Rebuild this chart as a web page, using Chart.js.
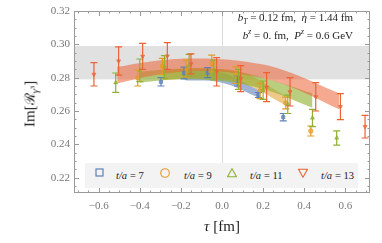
<!DOCTYPE html>
<html>
<head>
<meta charset="utf-8">
<script src="https://cdn.jsdelivr.net/npm/chart.js@4.4.1/dist/chart.umd.min.js"></script>
<style>
  html, body { margin: 0; padding: 0; background: #fff; }
  #wrap { position: relative; width: 382px; height: 243px; font-family: 'Liberation Serif', 'DejaVu Serif', serif; }
  canvas { position: absolute; left: 0; top: 0; }
  .note { position: absolute; right: 29px; font-size: 11px; color: #222; white-space: nowrap; }
  .note i { font-style: italic; }
  .note sub, .note sup { font-size: 7.5px; line-height: 0; }
  #legend { position: absolute; left: 85px; top: 163px; width: 273px; height: 25px; background: #f3f3f3; }
  #legend svg { position: absolute; }
  .item { position: absolute; top: 0; height: 25px; display: flex; align-items: center; font-size: 10.5px; font-style: italic; color: #222; white-space: nowrap; }
  #xt { position: absolute; left: 0; width: 444px; top: 218px; text-align: center; font-size: 15px; color: #222; }
  #yt { position: absolute; left: 30px; top: 104px; transform: translate(-50%, -50%) rotate(-90deg); font-size: 15px; color: #222; white-space: nowrap; }
  #yt sub { font-size: 10px; }
  #yt sup { font-size: 7px; }
</style>
</head>
<body>
<div id="wrap">
  <canvas id="c" width="382" height="243"></canvas>
  <div class="note" style="top:11px"><i>b</i><sub><i>T</i></sub> = 0.12 fm, &nbsp;<i>η</i> = 1.44 fm</div>
  <div class="note" style="top:29px"><i>b</i><sup><i>z</i></sup> = 0. fm, &nbsp;<i>P</i><sup><i>z</i></sup> = 0.6 GeV</div>
  <div id="legend"></div>
  <div id="xt"><i>τ</i> [fm]</div>
  <div id="yt">Im[<span style="font-family:'DejaVu Serif',serif;font-size:14px">ℛ</span><sub><i>γ</i><sup>3</sup></sub>]</div>
</div>
<script>
// t/a = 7
const tau7 = [-0.297, -0.185, -0.07, 0.075, 0.177, 0.298];
const val7 = [0.2775, 0.2828, 0.2830, 0.2780, 0.2696, 0.2563];
const err7 = [0.0025, 0.0035, 0.0030, 0.0030, 0.0015, 0.0022];
// t/a = 9
const tau9 = [-0.41, -0.29, -0.175, -0.05, 0.067, 0.185, 0.31, 0.432];
const val9 = [0.2798, 0.2868, 0.2855, 0.2885, 0.2815, 0.2720, 0.2648, 0.2480];
const err9 = [0.0048, 0.0048, 0.0050, 0.0050, 0.0050, 0.0046, 0.0035, 0.0030];
// t/a = 11
const tau11 = [-0.517, -0.40, -0.28, -0.16, -0.04, 0.08, 0.20, 0.32, 0.44, 0.558];
const val11 = [0.2770, 0.2844, 0.2864, 0.2875, 0.2846, 0.2790, 0.2725, 0.2640, 0.2558, 0.2438];
const err11 = [0.0058, 0.0068, 0.0068, 0.0065, 0.0060, 0.0060, 0.0055, 0.0055, 0.0052, 0.0043];
// t/a = 13
const tau13 = [-0.623, -0.503, -0.386, -0.266, -0.151, -0.026, 0.091, 0.217, 0.331, 0.456, 0.576, 0.696];
const val13 = [0.2820, 0.2900, 0.2928, 0.2930, 0.2883, 0.2835, 0.2794, 0.2743, 0.2715, 0.2685, 0.2626, 0.2506];
const err13 = [0.0070, 0.0085, 0.0078, 0.0080, 0.0060, 0.0085, 0.0078, 0.0087, 0.0085, 0.0085, 0.0078, 0.0068];

// fit bands (read at a few tau values)
const bandX7 = [-0.18, 0, 0.18];
const bandHi7 = [0.2840, 0.2830, 0.2725];
const bandLo7 = [0.2785, 0.2770, 0.2680];
const bandX9 = [-0.29, -0.1, 0.1, 0.31];
const bandHi9 = [0.2845, 0.2855, 0.2830, 0.2690];
const bandLo9 = [0.2785, 0.2795, 0.2765, 0.2635];
const bandX11 = [-0.4, -0.2, 0, 0.2, 0.44];
const bandHi11 = [0.2835, 0.2855, 0.2850, 0.2800, 0.2706];
const bandLo11 = [0.2770, 0.2790, 0.2780, 0.2732, 0.2620];
const bandX13 = [-0.51, -0.3, -0.1, 0.1, 0.3, 0.57];
const bandHi13 = [0.2865, 0.2905, 0.2915, 0.2898, 0.2845, 0.2706];
const bandLo13 = [0.2765, 0.2820, 0.2840, 0.2820, 0.2760, 0.2610];

// gray reference band
const refBand = [0.279, 0.299];

const xTicks = [-0.6, -0.4, -0.2, 0.0, 0.2, 0.4, 0.6];
const yTicks = [0.22, 0.24, 0.26, 0.28, 0.30, 0.32];

const series = [
  { label: 't/a = 7', tau: tau7, val: val7, err: err7, color: '#5e81b5', fill: 'rgba(94,129,181,0.6)', style: 'rect', rot: 0, bx: bandX7, hi: bandHi7, lo: bandLo7 },
  { label: 't/a = 9', tau: tau9, val: val9, err: err9, color: '#e19c24', fill: 'rgba(225,156,36,0.55)', style: 'circle', rot: 0, bx: bandX9, hi: bandHi9, lo: bandLo9 },
  { label: 't/a = 11', tau: tau11, val: val11, err: err11, color: '#8fb032', fill: 'rgba(143,176,50,0.62)', style: 'triangle', rot: 0, bx: bandX11, hi: bandHi11, lo: bandLo11 },
  { label: 't/a = 13', tau: tau13, val: val13, err: err13, color: '#eb6235', fill: 'rgba(235,98,53,0.55)', style: 'triangle', rot: 180, bx: bandX13, hi: bandHi13, lo: bandLo13 }
];

const toXY = (xs, ys) => xs.map((x, i) => ({ x: x, y: ys[i] }));

const datasets = [];
series.forEach((s, k) => {
  datasets.push({ type: 'line', data: toXY(s.bx, s.lo), borderWidth: 0, pointRadius: 0, tension: 0.4, fill: false, order: 20 - k * 2 });
  datasets.push({ type: 'line', data: toXY(s.bx, s.hi), borderWidth: 0, pointRadius: 0, tension: 0.4, fill: '-1', backgroundColor: s.fill, order: 19 - k * 2 });
});
series.forEach((s, k) => {
  datasets.push({
    type: 'scatter', data: toXY(s.tau, s.val), pointStyle: s.style, rotation: s.rot,
    pointRadius: 2.2, backgroundColor: s.fill, borderColor: s.color, borderWidth: 0.8, order: 5 - k
  });
});

const deco = {
  id: 'deco',
  beforeDatasetsDraw(chart) {
    const { ctx, chartArea: a, scales: { x, y } } = chart;
    ctx.save();
    ctx.fillStyle = 'rgba(205,205,205,0.6)';
    const t = y.getPixelForValue(refBand[1]), b = y.getPixelForValue(refBand[0]);
    ctx.fillRect(a.left, t, a.right - a.left, b - t);
    ctx.strokeStyle = '#dcdcdc';
    ctx.lineWidth = 1;
    const x0 = Math.round(x.getPixelForValue(0)) + 0.5;
    ctx.beginPath(); ctx.moveTo(x0, a.top); ctx.lineTo(x0, a.bottom); ctx.stroke();
    ctx.restore();
  },
  afterDatasetsDraw(chart) {
    const { ctx, chartArea: a, scales: { x, y } } = chart;
    ctx.save();
    // error bars
    series.forEach(s => {
      ctx.strokeStyle = s.color;
      ctx.lineWidth = 1.2;
      s.tau.forEach((t, i) => {
        const px = x.getPixelForValue(t);
        const p1 = y.getPixelForValue(s.val[i] + s.err[i]);
        const p2 = y.getPixelForValue(s.val[i] - s.err[i]);
        ctx.beginPath();
        ctx.moveTo(px, p1); ctx.lineTo(px, p2);
        ctx.moveTo(px - 3.5, p1); ctx.lineTo(px + 3.5, p1);
        ctx.moveTo(px - 3.5, p2); ctx.lineTo(px + 3.5, p2);
        ctx.stroke();
      });
    });
    // frame and inward ticks
    ctx.strokeStyle = '#9a9a9a';
    ctx.lineWidth = 1;
    ctx.strokeRect(a.left + 0.5, a.top + 0.5, a.right - a.left - 1, a.bottom - a.top - 1);
    ctx.beginPath();
    for (let v = -0.7; v <= 0.7001; v += 0.05) {
      const major = Math.abs(Math.round(v * 10) / 10 - v) < 1e-6 && Math.round(v * 10) % 2 === 0;
      const len = major ? 5 : 2.5;
      const px = Math.round(x.getPixelForValue(v)) + 0.5;
      ctx.moveTo(px, a.bottom); ctx.lineTo(px, a.bottom - len);
      ctx.moveTo(px, a.top); ctx.lineTo(px, a.top + len);
    }
    for (let v = 0.215; v <= 0.3201; v += 0.005) {
      const major = yTicks.some(t => Math.abs(t - v) < 1e-6);
      const len = major ? 5 : 2.5;
      const py = Math.round(y.getPixelForValue(v)) + 0.5;
      ctx.moveTo(a.left, py); ctx.lineTo(a.left + len, py);
      ctx.moveTo(a.right, py); ctx.lineTo(a.right - len, py);
    }
    ctx.stroke();
    ctx.restore();
  }
};

const tickFont = { family: "'Liberation Serif', 'DejaVu Serif', serif", size: 11 };

new Chart(document.getElementById('c'), {
  type: 'scatter',
  data: { datasets: datasets },
  options: {
    responsive: false,
    animation: false,
    layout: { padding: { left: 0, right: 12, top: 11, bottom: 0 } },
    plugins: { legend: { display: false }, tooltip: { enabled: false } },
    scales: {
      x: {
        type: 'linear', min: -0.72, max: 0.72,
        afterBuildTicks: s => { s.ticks = xTicks.map(v => ({ value: v })); },
        afterFit: s => { s.height = 50; },
        grid: { display: false, drawTicks: false },
        border: { display: false },
        ticks: { color: '#777', font: tickFont, padding: 7, maxRotation: 0,
          callback: v => v.toFixed(1).replace('-', '\u2212') }
      },
      y: {
        type: 'linear', min: 0.2108, max: 0.32,
        afterBuildTicks: s => { s.ticks = yTicks.map(v => ({ value: v })); },
        afterFit: s => { s.width = 74; },
        grid: { display: false, drawTicks: false },
        border: { display: false },
        ticks: { color: '#777', font: tickFont, padding: 4,
          callback: v => v.toFixed(2) }
      }
    }
  },
  plugins: [deco]
});

// legend
const legend = document.getElementById('legend');
const markX = [14, 80, 147, 218];
const textX = [31, 99, 165, 236];
const shapes = [
  c => `<rect x="1" y="1" width="7" height="7" fill="none" stroke="${c}" stroke-width="1.2"/>`,
  c => `<circle cx="5" cy="5" r="4.3" fill="none" stroke="${c}" stroke-width="1.1"/>`,
  c => `<polygon points="5,0.8 9.5,8.8 0.5,8.8" fill="none" stroke="${c}" stroke-width="1.1"/>`,
  c => `<polygon points="0.5,1.2 9.5,1.2 5,9.2" fill="none" stroke="${c}" stroke-width="1.1"/>`
];
series.forEach((s, i) => {
  const w = i === 0 ? 9 : 10;
  legend.innerHTML += `<svg width="${w}" height="10" style="left:${markX[i] - w / 2}px;top:${i === 0 ? 5 : 4.5}px">${shapes[i](s.color)}</svg>`;
  const parts = s.label.split(' = ');
  legend.innerHTML += `<div class="item" style="left:${textX[i]}px">${parts[0]}&thinsp;=&thinsp;<span style="font-style:normal">${parts[1]}</span></div>`;
});
</script>
</body>
</html>
